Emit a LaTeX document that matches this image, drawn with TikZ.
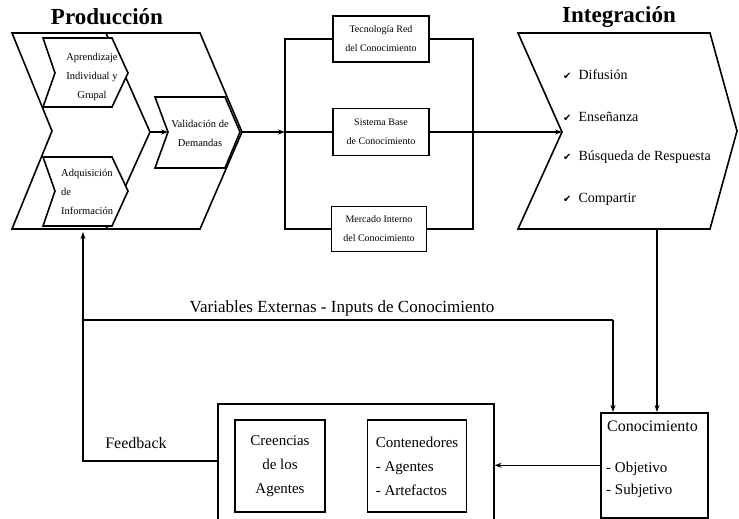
\documentclass[tikz,border=0pt]{standalone}
\usepackage{fontspec}
\setmainfont{Liberation Serif}
\newfontfamily\symfont{DejaVu Sans}
\usepackage{tikz}
\usetikzlibrary{arrows.meta,positioning,calc}

\newcommand{\chk}{{\symfont\fontsize{10}{10}\selectfont ✔}}
\tikzset{
  figline/.style={line width=1.6pt, black},
  figarrow/.style={figline, -{Stealth[length=7pt,width=5pt]}},
  figtitle/.style={font=\fontsize{23}{23}\selectfont\bfseries},
  chevtext/.style={font=\fontsize{10.5}{19}\selectfont, align=center, inner sep=0pt},
  midbox/.style={draw, figline, align=center, inner sep=1pt, font=\fontsize{10}{19}\selectfont},
  itemtext/.style={anchor=west, inner sep=0pt, font=\fontsize{14}{14}\selectfont},
  bigtext/.style={inner sep=0pt, font=\fontsize{16}{16}\selectfont},
  agentbox/.style={draw, figline, align=left, inner sep=3pt, font=\fontsize{15}{24}\selectfont}
}

\begin{document}
\begin{tikzpicture}[x=1pt,y=-1pt]
\useasboundingbox (0,0) rectangle (739,519);

% Produccion
\node[figtitle] (prodtitle) at (107,17) {Producción};
\draw[figline] (12,33) -- (200,33) -- (242,132) -- (200,229) -- (12,229) -- (52,131) -- cycle;
\draw[figline] (106,33) -- (150,132) -- (106,229);
\coordinate (prodtip) at (150,132);
\coordinate (prodin) at (83,232);

\filldraw[figline, fill=white] (43,38) -- (112,38) -- (128,73) -- (112,107) -- (43,107) -- (55,73) -- cycle;
\node[chevtext] (aprendizaje) at (92,77) {Aprendizaje\\Individual y\\Grupal};

\filldraw[figline, fill=white] (43,157) -- (112,157) -- (128,191) -- (112,226) -- (43,226) -- (55,191) -- cycle;
\node[chevtext, align=left, anchor=west] (adquisicion) at (61,192) {Adquisición\\de\\Información};

\filldraw[figline, fill=white] (155,97) -- (225,97) -- (240,132) -- (225,168) -- (155,168) -- (168,132) -- cycle;
\node[chevtext] (validacion) at (200,133) {Validación de\\Demandas};
\coordinate (validin) at (168,132);
\coordinate (validout) at (242,132);
\draw[figarrow] (prodtip) -- (validin);

% bloque central
\node[midbox, minimum width=96pt, minimum height=46pt] (tecnologia) at (381,39) {Tecnología Red\\del Conocimiento};
\node[midbox, minimum width=96pt, minimum height=47pt] (sistema) at (381,132) {Sistema Base\\de Conocimiento};
\node[midbox, minimum width=95pt, minimum height=45pt] (mercado) at (379,229) {Mercado Interno\\del Conocimiento};
\coordinate (splitin) at (285,132);
\coordinate (splitout) at (473,132);
\draw[figarrow] (validout) -- (splitin);
\draw[figline] (splitin) -- (sistema);
\draw[figline] (tecnologia) -| (splitin) |- (mercado);
\draw[figline] (tecnologia) -| (splitout) |- (mercado);

% Integracion
\node[figtitle] (integtitle) at (619,17) {Integración};
\draw[figline] (518,33) -- (710,33) -- (737,131) -- (710,229) -- (518,229) -- (562,132) -- cycle;
\coordinate (integin) at (562,132);
\coordinate (integout) at (657,229);
\draw[figarrow] (sistema) -- (integin);
\node[itemtext] (difusion) at (563,75) {\chk\ \ Difusión};
\node[itemtext] (ensenanza) at (563,117) {\chk\ \ Enseñanza};
\node[itemtext] (busqueda) at (563,157) {\chk\ \ Búsqueda de Respuesta};
\node[itemtext] (compartir) at (563,199) {\chk\ \ Compartir};

% Conocimiento
\node[draw, figline, minimum width=107pt, minimum height=105pt, anchor=north west] (conocimiento) at (600,412) {};
\node[bigtext, anchor=north west] (conoctitle) at (607,421) {Conocimiento};
\node[bigtext, anchor=north west, align=left, font=\fontsize{15}{22}\selectfont] (conoclist) at (606,462) {- Objetivo\\- Subjetivo};
\draw[figarrow] (integout) -- (integout |- conocimiento.north);

% variables externas
\coordinate (extleft) at (83,320);
\coordinate (extcorner) at (613,320);
\draw[figline] (extleft) -- (extcorner);
\draw[figarrow] (extcorner) -- (extcorner |- conocimiento.north);
\node[bigtext, font=\fontsize{17}{17}\selectfont] (extlabel) at (342,308) {Variables Externas - Inputs de Conocimiento};

% agentes
\node[draw, figline, minimum width=276pt, minimum height=130pt, anchor=north west] (agentes) at (217,403) {};
\node[agentbox, align=center, minimum width=90pt, minimum height=92pt] (creencias) at (280,466) {Creencias\\de los\\Agentes};
\node[agentbox, minimum width=99pt, minimum height=92pt] (contenedores) at (417,466) {Contenedores\\- Agentes\\- Artefactos};
\draw[figarrow] (conocimiento.west) -- (conocimiento.west -| agentes.east);

% feedback
\coordinate (feedcorner) at (83,461);
\draw[figarrow] (agentes.west |- feedcorner) -- (feedcorner) -- (prodin);
\node[bigtext] (feedlabel) at (136,443) {Feedback};
\end{tikzpicture}
\end{document}
